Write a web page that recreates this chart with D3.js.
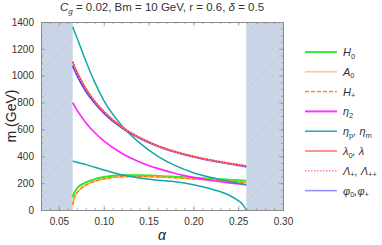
<!DOCTYPE html>
<html>
<head>
<meta charset="utf-8">
<script src="https://cdn.jsdelivr.net/npm/d3@7"></script>
<style>
  body { margin: 0; background: #fff; }
  svg text { font-family: "Liberation Sans", Arial, sans-serif; }
</style>
</head>
<body>
<script>
// alpha grid shared by every curve
var alphaGrid = [0.0654, 0.067, 0.07, 0.08, 0.09, 0.10, 0.12, 0.14, 0.16, 0.18, 0.20, 0.22, 0.24, 0.25, 0.255, 0.259];

// masses (GeV)
var mH0    = [95, 125, 160, 205, 230, 245, 258, 258, 254, 247, 240, 232, 225, 221, 219, 218];
var mA0    = [37, 85, 125, 185, 215, 232, 248, 250, 246, 240, 232, 224, 215, 210, 207, 205];
var mEta2  = [800, 780, 745, 650, 575, 515, 423, 358, 310, 272, 243, 220, 202, 195, 191, 188];
var mEtaP  = [1365, 1335, 1285, 1110, 950, 817, 630, 500, 402, 330, 278, 242, 213, 200, 193, 187];
var mEtaM  = [364, 361, 355, 338, 318, 298, 262, 238, 222, 210, 188, 156, 110, 70, 42, 0];
var mLam   = [1104, 1075, 1030, 905, 810, 735, 620, 540, 480, 435, 400, 372, 348, 338, 333, 328];
var mPhi   = [1075, 1048, 1005, 885, 795, 722, 612, 535, 475, 430, 395, 367, 343, 332, 327, 322];

// excluded alpha ranges (shaded)
var shadeRanges = [[0.03, 0.0654], [0.259, 0.30]];

var xTicks = [0.05, 0.10, 0.15, 0.20, 0.25, 0.30];
var yTicks = [0, 200, 400, 600, 800, 1000, 1200, 1400];

var legendItems = [
  {name: "H", sub: "0", color: "#33ee33", dash: null, w: 2},
  {name: "A", sub: "0", color: "#ffc38f", dash: null, w: 1.5},
  {name: "H", sub: "+", color: "#ff8c1a", dash: "4,2", w: 1.5},
  {name: "η", sub: "2", color: "#ff33ff", dash: null, w: 2},
  {name: "η", sub: "p", name2: ", η", sub2: "m", color: "#22aaaa", dash: null, w: 1.5},
  {name: "λ", sub: "0", name2: ", λ", color: "#ff8a8a", dash: null, w: 1.8},
  {name: "Λ", sub: "+", name2: ", Λ", sub2: "++", color: "#ff7070", dash: "1.5,1.5", w: 1.2},
  {name: "φ", sub: "0", name2: ",φ", sub2: "+", color: "#8f8fff", dash: null, w: 1.5}
];

var W = 382, H = 245;
var pL = 41, pR = 283, pT = 22, pB = 210;

var svg = d3.select("body").append("svg")
  .attr("width", W).attr("height", H);

var x = d3.scaleLinear().domain([0.03, 0.30]).range([pL, pR]);
var y = d3.scaleLinear().domain([0, 1400]).range([pB, pT]);

// hatch pattern for shaded regions
var defs = svg.append("defs");
var pat = defs.append("pattern").attr("id", "hatch")
  .attr("patternUnits", "userSpaceOnUse").attr("width", 14).attr("height", 14);
pat.append("rect").attr("width", 14).attr("height", 14).attr("fill", "#cad6e7");
pat.append("path").attr("d", "M0,14L14,0").attr("stroke", "#bcc9dc").attr("stroke-width", 0.6);
pat.append("path").attr("d", "M0,0L14,14").attr("stroke", "#c3cfe0").attr("stroke-width", 0.4);

svg.selectAll("rect.shade").data(shadeRanges).enter().append("rect")
  .attr("class", "shade")
  .attr("x", function(d) { return x(d[0]); })
  .attr("y", pT)
  .attr("width", function(d) { return x(d[1]) - x(d[0]); })
  .attr("height", pB - pT)
  .attr("fill", "url(#hatch)");

// curves
var series = [
  {vals: mH0, color: "#22ee22", w: 2, dash: null},
  {vals: mA0, color: "#ffb070", w: 1.6, dash: null},
  {vals: mA0, color: "#ff8000", w: 1.4, dash: "4,2"},
  {vals: mEta2, color: "#ff22ff", w: 1.6, dash: null},
  {vals: mEtaP, color: "#11a8a8", w: 1.5, dash: null},
  {vals: mEtaM, color: "#11a8a8", w: 1.5, dash: null},
  {vals: mPhi, color: "#4848ff", w: 1.8, dash: null},
  {vals: mLam, color: "#ff8080", w: 1.8, dash: null},
  {vals: mLam, color: "#ff2020", w: 1.3, dash: "1.5,1.5"}
];

var line = d3.line()
  .x(function(d) { return x(d[0]); })
  .y(function(d) { return y(d[1]); })
  .curve(d3.curveMonotoneX);

svg.selectAll("path.curve").data(series).enter().append("path")
  .attr("class", "curve")
  .attr("d", function(s) { return line(alphaGrid.map(function(a, i) { return [a, s.vals[i]]; })); })
  .attr("fill", "none")
  .attr("stroke", function(s) { return s.color; })
  .attr("stroke-width", function(s) { return s.w; })
  .attr("stroke-dasharray", function(s) { return s.dash; });

// frame with inward ticks
var frameColor = "#8c8c8c";
var xMinor = d3.range(0.03, 0.3001, 0.01);
var yMinor = d3.range(0, 1401, 50);

svg.append("g").attr("transform", "translate(0," + pB + ")")
  .call(d3.axisBottom(x).tickValues(xMinor).tickSize(-2).tickFormat(""));
svg.append("g").attr("transform", "translate(0," + pB + ")")
  .call(d3.axisBottom(x).tickValues(xTicks).tickSize(-4).tickPadding(8).tickFormat(d3.format(".2f")));
svg.append("g").attr("transform", "translate(0," + pT + ")")
  .call(d3.axisTop(x).tickValues(xMinor).tickSize(-2).tickFormat(""));
svg.append("g").attr("transform", "translate(0," + pT + ")")
  .call(d3.axisTop(x).tickValues(xTicks).tickSize(-4).tickFormat(""));
svg.append("g").attr("transform", "translate(" + pL + ",0)")
  .call(d3.axisLeft(y).tickValues(yMinor).tickSize(-2).tickFormat(""));
svg.append("g").attr("transform", "translate(" + pL + ",0)")
  .call(d3.axisLeft(y).tickValues(yTicks).tickSize(-4).tickPadding(7).tickFormat(d3.format("d")));
svg.append("g").attr("transform", "translate(" + pR + ",0)")
  .call(d3.axisRight(y).tickValues(yMinor).tickSize(-2).tickFormat(""));
svg.append("g").attr("transform", "translate(" + pR + ",0)")
  .call(d3.axisRight(y).tickValues(yTicks).tickSize(-4).tickFormat(""));

svg.selectAll(".domain").attr("stroke", frameColor);
svg.selectAll(".tick line").attr("stroke", frameColor).attr("stroke-width", 0.7);
svg.selectAll(".tick text").attr("fill", "#333").attr("font-size", 10)
  .attr("font-family", "Liberation Sans, Arial, sans-serif");

// title
var title = svg.append("text").attr("x", 162).attr("y", 11)
  .attr("text-anchor", "middle").attr("font-size", 11.5).attr("fill", "#333");
title.append("tspan").attr("font-style", "italic").text("C");
title.append("tspan").attr("font-size", 8).attr("dy", 2.5).attr("font-style", "italic").text("g");
title.append("tspan").attr("dy", -2.5).text(" = 0.02, Bm = 10 GeV, r = 0.6, ");
title.append("tspan").attr("font-style", "italic").text("δ");
title.append("tspan").text(" = 0.5");

// axis labels
svg.append("text").attr("transform", "translate(16," + ((pT + pB) / 2) + ") rotate(-90)")
  .attr("text-anchor", "middle").attr("font-size", 14).attr("fill", "#222")
  .attr("font-family", "Liberation Serif, Times New Roman, serif")
  .text("m (GeV)");
svg.append("text").attr("x", 162).attr("y", 240)
  .attr("text-anchor", "middle").attr("font-size", 14).attr("fill", "#222")
  .attr("font-style", "italic")
  .attr("font-family", "Liberation Serif, Times New Roman, serif")
  .text("α");

// legend
var lg = svg.selectAll("g.leg").data(legendItems).enter().append("g")
  .attr("class", "leg")
  .attr("transform", function(d, i) { return "translate(305," + (52 + i * 19.8) + ")"; });
lg.append("line").attr("x1", 0).attr("x2", 32).attr("y1", 0).attr("y2", 0)
  .attr("stroke", function(d) { return d.color; })
  .attr("stroke-width", function(d) { return d.w; })
  .attr("stroke-dasharray", function(d) { return d.dash; });
var lt = lg.append("text").attr("x", 38).attr("y", 4).attr("font-size", 11).attr("fill", "#333");
lt.each(function(d) {
  var t = d3.select(this);
  t.append("tspan").attr("font-style", "italic").text(d.name);
  t.append("tspan").attr("font-size", 7.5).attr("dy", 2.5).text(d.sub);
  if (d.name2) {
    t.append("tspan").attr("dy", -2.5).attr("font-style", "italic").text(d.name2);
    if (d.sub2) t.append("tspan").attr("font-size", 7.5).attr("dy", 2.5).text(d.sub2);
  }
});
</script>
</body>
</html>
